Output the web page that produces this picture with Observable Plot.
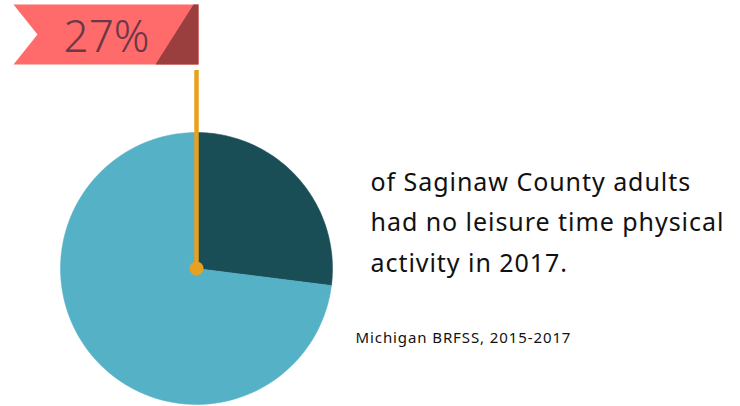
<!DOCTYPE html>
<html><head><meta charset="utf-8">
<script src="https://cdn.jsdelivr.net/npm/d3@7"></script>
<script src="https://cdn.jsdelivr.net/npm/@observablehq/plot@0.6"></script>
<style>body{margin:0;background:#fff}
.desc text{letter-spacing:0.95px}
.src text{letter-spacing:0.9px}
</style>
</head><body><div id="chart"></div>
<script>
const categories = ["No leisure time physical activity", "Other adults"];
const values = [27, 73];
const sliceColors = ["#1a4e57", "#55b1c5"];
const flagLabel = "27%";
const descLines = ["of Saginaw County adults", "had no leisure time physical", "activity in 2017."];
const sourceText = "Michigan BRFSS, 2015-2017";

const W = 740, H = 406, R = 136, CX = 196, CY = 268;
const ux = p => (p - CX) / R;
const uy = p => (CY - p) / R;

const arcs = d3.pie().sort(null).value(d => d)(values);
const slicePts = [];
arcs.forEach((a, i) => {
  slicePts.push({s: i, x: 0, y: 0});
  const n = 120;
  for (let k = 0; k <= n; k++) {
    const t = a.startAngle + (a.endAngle - a.startAngle) * k / n;
    slicePts.push({s: i, x: Math.sin(t), y: Math.cos(t)});
  }
  slicePts.push({s: i, x: 0, y: 0});
});

const flag = [[13,4],[198,4],[198,64],[13,64],[37,34],[13,4]].map(([x,y]) => ({x: ux(x), y: uy(y)}));
const fold = [[193,4],[198,4],[198,64],[155,64],[193,4]].map(([x,y]) => ({x: ux(x), y: uy(y)}));

const font = "'Noto Sans', sans-serif";
const chart = Plot.plot({
  width: W, height: H,
  margin: 0,
  x: {domain: [ux(0), ux(W)], axis: null},
  y: {domain: [uy(H), uy(0)], axis: null},
  style: {fontFamily: font, background: "#fff"},
  marks: [
    Plot.line(slicePts, {x: "x", y: "y", z: "s", fill: d => sliceColors[d.s], stroke: d => sliceColors[d.s], strokeWidth: 0.5, curve: "linear"}),
    Plot.line(flag, {x: "x", y: "y", fill: "#ff6a6a", stroke: "none"}),
    Plot.line(fold, {x: "x", y: "y", fill: "#9b3e3e", stroke: "none"}),
    Plot.text([flagLabel], {x: ux(106), y: uy(37), text: d => d, fontSize: 44, fontWeight: 300, fill: "#6a3848", fontFamily: font}),
    Plot.ruleX([0], {x: 0, y1: 0, y2: uy(70), stroke: "#e8a020", strokeWidth: 4.5}),
    Plot.dot([0], {x: 0, y: 0, r: 7, fill: "#e8a020", stroke: "none"}),
    Plot.text(descLines, {x: ux(370), y: (d, i) => uy(182 + i * 40.5), text: d => d, textAnchor: "start", fontSize: 25, fill: "#111", fontFamily: font, className: "desc"}),
    Plot.text([sourceText], {x: ux(355), y: uy(338), text: d => d, textAnchor: "start", fontSize: 15, fill: "#111", fontFamily: font, className: "src"})
  ]
});
document.getElementById("chart").append(chart);
</script>
</body></html>
